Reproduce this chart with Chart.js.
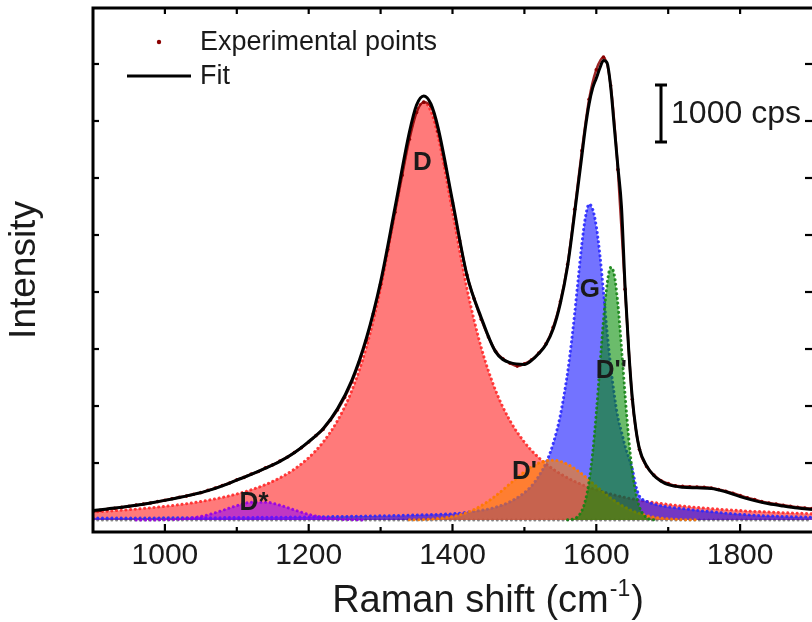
<!DOCTYPE html>
<html><head><meta charset="utf-8">
<script src="https://cdn.jsdelivr.net/npm/chart.js@4.4.1/dist/chart.umd.min.js"></script>
<style>html,body{margin:0;padding:0;background:#fff;overflow:hidden}#wrap{width:812px;height:622px;overflow:hidden}</style>
</head><body><div id="wrap"><canvas id="c" width="816" height="622"></canvas></div>
<script>
// ---------- data ----------
const shifts = [900,920,940,960,980,1000,1020,1040,1060,1080,1100,1120,1140,1160,1180,1200,1220,1240,1260,1280,1300,1320,1340,1350,1360,1370,1380,1400,1420,1440,1460,1480,1500,
  1510,1520,1530,1540,1550,1560,
  1565,1570,1575,1580,1585,1590,1595,1600,1605,1610,1615,1620,1625,1630,1635,1640,1645,1650,1655,
  1660,1670,1680,1690,1700,
  1720,1740,1760,1780,1800,1820,1840,1860,1880,1900];
const dBand = [140,155,172,192,215,240,270,305,348,397,456,530,622,740,892,1094,1366,1742,2271,3022,4068,5405,6731,7170,7330,7170,6731,5405,4068,3022,2271,1742,1366,
  1219,1094,985,892,811,740,
  707,677,649,622,597,573,551,530,510,491,473,456,440,425,411,397,384,371,360,
  348,327,308,290,274,
  245,221,200,182,166,152,140,129,120,111];
const gBand = [35,35,36,36,37,38,39,40,41,42,44,46,48,50,52,55,58,61,65,69,74,79,85,88,92,96,100,110,135,170,225,320,480,
  600,770,1000,1340,1840,2580,
  3070,3630,4250,4850,5320,5540,5450,5150,4650,4000,3300,2700,2200,1800,1550,1300,1100,900,600,
  420,330,280,250,230,
  200,170,145,120,100,85,72,62,55,50];
const fitCounts = [165,195,225,260,300,345,395,450,515,600,700,800,910,1030,1180,1375,1600,1950,2450,3180,4180,5480,6800,7280,7440,7300,6880,5600,4300,3550,2950,2760,2730,
  2800,2920,3080,3350,3800,4450,
  4900,5400,5900,6400,6900,7300,7580,7750,7930,8060,8020,7600,6900,6200,5500,4100,3000,2150,1600,
  1250,950,780,680,620,
  575,565,555,495,410,340,285,245,210,185];

const dPrimeShifts = [1340,1360,1380,1400,1420,1440,1460,1480,1500,1510,1520,1530,1540,1550,1560,1570,1580,1590,1600,1610,1620,1630,1640,1650,1660,1670,1680,1690,1700,1720,1740];
const dPrimeBand = [3,9,26,62,132,252,425,637,847,935,1001,1040,1050,1028,977,902,808,702,593,486,386,298,224,163,115,79,52,34,21,8,3];

const dStarShifts = [960,980,1000,1020,1040,1060,1080,1100,1120,1140,1160,1180,1200,1220,1240,1260,1280];
const dStarBand = [0,1,5,15,41,92,168,252,311,314,260,177,99,45,17,5,1];

const dDoubleShifts = [1560,1565,1570,1575,1580,1585,1590,1595,1600,1605,1610,1615,1620,1625,1630,1635,1640,1645,1650,1655,1660,1670,1680];
const dDoubleBand = [3,10,28,71,167,353,680,1187,1876,2693,3506,4139,4431,4303,3791,3028,2194,1442,859,464,228,41,5];

const baselineShifts = [900,1900];
const baselineCounts = [0,0];

const expShifts = [900,910,920,930,940,950,960,970,980,990,1000,1010,1020,1030,1040,1050,1060,1070,1080,1090,
  1100,1110,1120,1130,1140,1150,1160,1170,1180,1190,1200,1210,1220,1230,1240,1250,1260,1270,1280,1290,
  1300,1310,1320,1330,1340,1350,1360,1370,1380,1390,1400,1410,1420,1430,1440,1450,1460,1470,1480,1490,
  1500,1510,1520,1530,1540,1550,1560,1570,1580,1590,1600,1610,1620,1630,1640,1650,1660,1670,1680,1690,
  1700,1710,1720,1730,1740,1750,1760,1770,1780,1790,1800,1810,1820,1830,1840,1850,1860,1870,1880,1890,1900];
const expCounts = [150,170,190,205,222,240,262,280,298,322,348,372,398,420,452,480,520,560,605,650,
  705,748,805,850,915,968,1035,1100,1185,1270,1370,1480,1590,1750,1930,2150,2420,2760,3150,3620,
  4130,4750,5400,6050,6680,7150,7330,7260,6820,6220,5560,4900,4300,3880,3520,3210,2960,2830,2750,2700,
  2740,2810,2930,3090,3380,3830,4480,5450,6480,7380,7900,8120,7620,6150,4050,2120,1240,940,790,690,
  640,600,590,585,580,575,560,535,505,470,430,390,360,325,300,280,260,240,225,210,200];

const xTickLabels = [1000,1200,1400,1600,1800];
const xMinorTicks = [1100,1300,1500,1700];
const xTopTicks = [1000,1100,1200,1300,1400,1500,1600,1700,1800];
const yTicks = [1000,2000,3000,4000,5000,6000,7000,8000];

// ---------- presentation ----------
const FONT = '"Liberation Sans", Arial, Helvetica, sans-serif';
const INK = '#1a1a1a';
const annotations = [
  {text:'D', x:1358, y:6263},
  {text:'G', x:1591, y:4035},
  {text:"D''", x:1621, y:2619},
  {text:"D'", x:1500, y:847},
  {text:'D*', x:1124, y:298}
];
const scaleBar = {x:1690, from:6630, to:7630, text:'1000 cps', textX:1704};

const pts = (xs, ys) => xs.map((x, i) => ({x, y: ys[i]}));
const band = (label, xs, ys, fillC, lineC, order) => ({
  label, data: pts(xs, ys), order,
  fill: 'origin', backgroundColor: fillC, borderColor: lineC,
  borderWidth: 3, borderDash: [0.1, 4.6], borderCapStyle: 'round',
  pointRadius: 0, cubicInterpolationMode: 'monotone'
});

const framePlugin = {
  id: 'frame',
  afterDraw(chart) {
    const {ctx, chartArea: a, scales: {x, y}, width} = chart;
    ctx.save();
    ctx.strokeStyle = '#000';
    ctx.lineWidth = 3;
    ctx.beginPath();
    ctx.moveTo(width, a.top); ctx.lineTo(a.left, a.top); ctx.lineTo(a.left, a.bottom); ctx.lineTo(width, a.bottom);
    ctx.stroke();
    ctx.lineWidth = 2.2;
    const tick = (x1, y1, x2, y2) => { ctx.beginPath(); ctx.moveTo(x1, y1); ctx.lineTo(x2, y2); ctx.stroke(); };
    xTickLabels.forEach(v => { const p = x.getPixelForValue(v); tick(p, a.bottom, p, a.bottom - 8); });
    xMinorTicks.forEach(v => { const p = x.getPixelForValue(v); tick(p, a.bottom, p, a.bottom - 5); });
    xTopTicks.forEach(v => { const p = x.getPixelForValue(v); tick(p, a.top, p, a.top + 6); });
    yTicks.forEach(v => { const p = y.getPixelForValue(v); tick(a.left, p, a.left + 6, p); tick(a.right, p, a.right - 7, p); });
    ctx.restore();
  }
};

const decorPlugin = {
  id: 'decor',
  afterDraw(chart) {
    const {ctx, scales: {x, y}} = chart;
    ctx.save();
    // legend
    ctx.fillStyle = '#8b0000';
    ctx.beginPath(); ctx.arc(159, 42, 2.2, 0, Math.PI * 2); ctx.fill();
    ctx.strokeStyle = '#000'; ctx.lineWidth = 3;
    ctx.beginPath(); ctx.moveTo(127, 76); ctx.lineTo(191, 76); ctx.stroke();
    ctx.fillStyle = INK;
    ctx.font = '27px ' + FONT;
    ctx.textBaseline = 'middle'; ctx.textAlign = 'left';
    ctx.fillText(chart.data.datasets[0].label, 200, 43);
    ctx.fillText(chart.data.datasets[1].label, 200, 77);
    // peak labels
    ctx.font = 'bold 26px ' + FONT;
    ctx.textAlign = 'center';
    annotations.forEach(an => ctx.fillText(an.text, x.getPixelForValue(an.x), y.getPixelForValue(an.y)));
    // scale bar
    const bx = x.getPixelForValue(scaleBar.x);
    const by0 = y.getPixelForValue(scaleBar.from), by1 = y.getPixelForValue(scaleBar.to);
    ctx.strokeStyle = '#000'; ctx.lineWidth = 3;
    ctx.beginPath();
    ctx.moveTo(bx, by0); ctx.lineTo(bx, by1);
    ctx.moveTo(bx - 6, by0); ctx.lineTo(bx + 6, by0);
    ctx.moveTo(bx - 6, by1); ctx.lineTo(bx + 6, by1);
    ctx.stroke();
    ctx.font = '32px ' + FONT;
    ctx.textAlign = 'left';
    ctx.fillText(scaleBar.text, x.getPixelForValue(scaleBar.textX), (by0 + by1) / 2 + 1);
    // x title with superscript
    const main = 'Raman shift (cm', sup = '-1', tail = ')';
    ctx.font = '38px ' + FONT; const w1 = ctx.measureText(main).width, w3 = ctx.measureText(tail).width;
    ctx.font = '23px ' + FONT; const w2 = ctx.measureText(sup).width;
    const total = w1 + w2 + w3 + 2;
    const sx = 488 - total / 2;
    const base = 612;
    ctx.textBaseline = 'alphabetic';
    ctx.font = '38px ' + FONT; ctx.fillText(main, sx, base);
    ctx.font = '23px ' + FONT; ctx.fillText(sup, sx + w1 + 1, base - 16);
    ctx.font = '38px ' + FONT; ctx.fillText(tail, sx + w1 + w2 + 2, base);
    ctx.restore();
  }
};

new Chart(document.getElementById('c'), {
  type: 'line',
  data: {
    datasets: [
      {label: 'Experimental points', data: pts(expShifts, expCounts), order: 1, showLine: true,
       borderColor: 'rgba(139,0,0,0.85)', borderWidth: 2.5, backgroundColor: '#8b0000',
       pointRadius: 1.8, pointBorderWidth: 0, cubicInterpolationMode: 'monotone', fill: false},
      {label: 'Fit', data: pts(shifts, fitCounts), order: 0, borderColor: '#000', borderWidth: 3,
       pointRadius: 0, cubicInterpolationMode: 'monotone', fill: false},
      band("D''", dDoubleShifts, dDoubleBand, 'rgba(0,140,0,0.58)', 'rgba(20,130,20,0.9)', 2),
      band("D'", dPrimeShifts, dPrimeBand, 'rgba(255,128,0,0.6)', 'rgba(255,120,0,0.9)', 3),
      band('D*', dStarShifts, dStarBand, 'rgba(140,0,255,0.55)', 'rgba(150,0,230,0.9)', 4),
      band('G', shifts, gBand, 'rgba(0,0,255,0.55)', 'rgba(40,40,255,0.9)', 5),
      band('D', shifts, dBand, 'rgba(255,0,0,0.52)', 'rgba(255,40,40,0.9)', 6),
      band('Baseline', baselineShifts, baselineCounts, 'rgba(128,128,128,0.4)', 'rgba(120,120,120,0.9)', 7)
    ]
  },
  options: {
    responsive: false, animation: false, devicePixelRatio: 1,
    layout: {padding: {top: 8, right: 2, bottom: 0, left: 0}},
    plugins: {legend: {display: false}, tooltip: {enabled: false}},
    scales: {
      x: {
        type: 'linear', min: 900, max: 1900,
        grid: {display: false, drawTicks: false}, border: {display: false},
        ticks: {font: {size: 30, family: FONT}, color: INK, padding: 6, maxRotation: 0, autoSkip: false,
                callback: v => String(v)},
        afterBuildTicks: s => { s.ticks = xTickLabels.map(v => ({value: v})); },
        afterFit: s => { s.height = 90; }
      },
      y: {
        type: 'linear', min: -210, max: 8982,
        grid: {display: false, drawTicks: false}, border: {display: false},
        ticks: {display: false},
        afterBuildTicks: s => { s.ticks = yTicks.map(v => ({value: v})); },
        title: {display: true, text: 'Intensity', font: {size: 37, family: FONT}, color: INK, padding: {top: 3, bottom: 0}},
        afterFit: s => { s.width = 93; }
      }
    }
  },
  plugins: [framePlugin, decorPlugin]
});
</script>
</body></html>
